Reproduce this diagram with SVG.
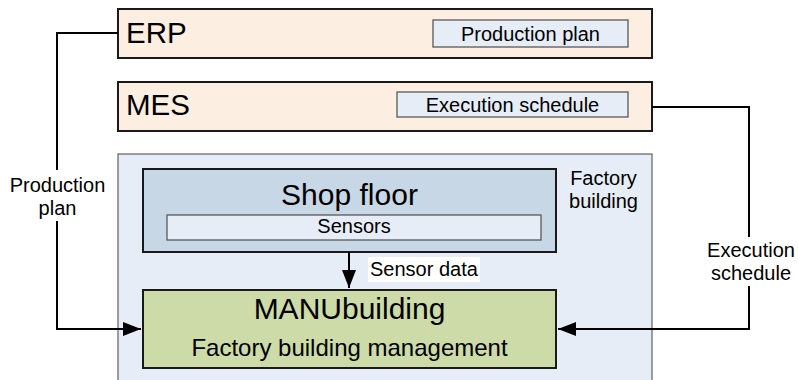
<svg xmlns="http://www.w3.org/2000/svg" width="798" height="380" viewBox="0 0 798 380">
<style>
text{font-family:"Liberation Sans",Arial,sans-serif;fill:#000}
.sys{fill:#fdeee2;stroke:#1a1a1a;stroke-width:2}
.tag{fill:#e6edf7;stroke:#595959;stroke-width:1.3}
.conn{fill:none;stroke:#000;stroke-width:2}
.lbl{font-size:20px;text-anchor:middle}
</style>
<defs>
<marker id="ah" markerUnits="userSpaceOnUse" markerWidth="20" markerHeight="14" refX="18" refY="7" orient="auto">
<path d="M0,0 L18,7 L0,14 Z" fill="#000"/>
</marker>
</defs>
<rect width="798" height="380" fill="#fff"/>
<g id="factory">
<rect x="118" y="154" width="534" height="240" fill="#e6edf7" stroke="#6b6b6b" stroke-width="1.3"/>
<text x="603.5" y="185" class="lbl">Factory</text>
<text x="603.5" y="208" class="lbl">building</text>
</g>
<g id="erp">
<rect class="sys" x="118" y="9" width="534" height="49"/>
<text x="126" y="43" font-size="29.5">ERP</text>
<rect class="tag" x="433" y="20" width="195" height="27"/>
<text x="530.5" y="41" class="lbl">Production plan</text>
</g>
<g id="mes">
<rect class="sys" x="118" y="82" width="534" height="49"/>
<text x="126" y="115" font-size="29.5">MES</text>
<rect class="tag" x="397" y="92" width="231" height="25"/>
<text x="512.5" y="112" class="lbl">Execution schedule</text>
</g>
<g id="shopfloor">
<rect x="143" y="169" width="413" height="83" fill="#c8d7e6" stroke="#1a1a1a" stroke-width="2"/>
<text x="349.5" y="205" font-size="30" text-anchor="middle">Shop floor</text>
<rect class="tag" x="167" y="215" width="374" height="25"/>
<text x="354" y="233" class="lbl">Sensors</text>
</g>
<g id="manubuilding">
<rect x="143" y="290" width="413" height="78" fill="#ccdba8" stroke="#1a1a1a" stroke-width="2"/>
<text x="349.5" y="319" font-size="30" text-anchor="middle">MANUbuilding</text>
<text x="349.5" y="356" font-size="24" text-anchor="middle">Factory building management</text>
</g>
<g id="connectors">
<path class="conn" d="M118,33 H57 V329 H141" marker-end="url(#ah)"/>
<path class="conn" d="M652,107 H749 V329 H558" marker-end="url(#ah)"/>
<path class="conn" d="M349,252 V288" marker-end="url(#ah)"/>
<rect x="8" y="170" width="100" height="51" fill="#fff"/>
<text x="57.5" y="192" class="lbl">Production</text>
<text x="57.5" y="215" class="lbl">plan</text>
<rect x="705" y="237" width="94" height="49" fill="#fff"/>
<text x="751" y="257" class="lbl">Execution</text>
<text x="751" y="280" class="lbl">schedule</text>
<rect x="368" y="257" width="112" height="25" fill="#fff"/>
<text x="370" y="276" font-size="20">Sensor data</text>
</g>
</svg>
